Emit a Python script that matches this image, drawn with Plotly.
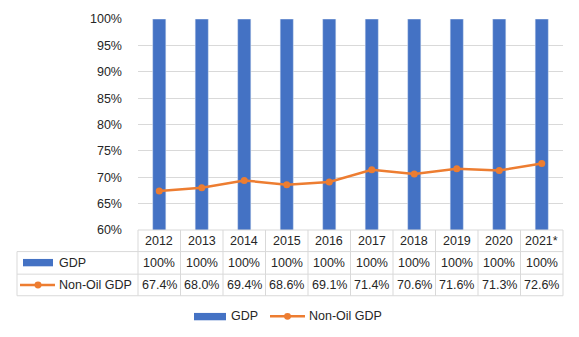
import plotly.graph_objects as go

years = ["2012", "2013", "2014", "2015", "2016", "2017", "2018", "2019", "2020", "2021*"]
gdp = [1.00, 1.00, 1.00, 1.00, 1.00, 1.00, 1.00, 1.00, 1.00, 1.00]
non_oil = [0.674, 0.680, 0.694, 0.686, 0.691, 0.714, 0.706, 0.716, 0.713, 0.726]
y_ticks = [0.60, 0.65, 0.70, 0.75, 0.80, 0.85, 0.90, 0.95, 1.00]

BLUE = "#4472C4"
ORANGE = "#ED7D31"
GRID = "#D9D9D9"
TXT = "#262626"
FONT = "Liberation Sans"

W, H = 579, 337
L, R, T, B = 138, 16, 15, 107
PW, PH = W - L - R, H - T - B


def px2py(py):
    return (H - B - py) / PH


def px2px(px):
    return (px - L) / PW


fig = go.Figure()
fig.add_trace(go.Bar(x=list(range(len(years))), y=gdp, marker_color=BLUE, width=0.31,
                     name="GDP", showlegend=False))
fig.add_trace(go.Scatter(x=list(range(len(years))), y=non_oil, mode="lines+markers",
                         line=dict(color=ORANGE, width=2.5), marker=dict(color=ORANGE, size=7),
                         name="Non-Oil GDP", showlegend=False))

shapes = []
ann = []
rows = [230, 252, 275, 297]
left_px = 17
shapes.append(dict(type="line", xref="paper", yref="paper", x0=0, x1=1,
                   y0=px2py(rows[0]), y1=px2py(rows[0]), line=dict(color=GRID, width=1)))
for r in rows[1:]:
    shapes.append(dict(type="line", xref="paper", yref="paper", x0=px2px(left_px), x1=1,
                       y0=px2py(r), y1=px2py(r), line=dict(color=GRID, width=1)))
n = len(years)
for i in range(n + 1):
    xp = i / n
    shapes.append(dict(type="line", xref="paper", yref="paper", x0=xp, x1=xp,
                       y0=px2py(rows[0]), y1=px2py(rows[3]), line=dict(color=GRID, width=1)))
shapes.append(dict(type="line", xref="paper", yref="paper", x0=px2px(left_px), x1=px2px(left_px),
                   y0=px2py(rows[1]), y1=px2py(rows[3]), line=dict(color=GRID, width=1)))

centers = [(rows[i] + rows[i + 1]) / 2 for i in range(3)]
tf = dict(size=12.5, color=TXT, family=FONT)


def txt(x, xref, py, text, xanchor="center"):
    return dict(x=x, xref=xref, y=px2py(py), yref="paper", text=text, showarrow=False,
                xanchor=xanchor, yanchor="middle", font=tf)


for i, yr in enumerate(years):
    ann.append(txt(i, "x", centers[0] + 0.5, yr))
    ann.append(txt(i, "x", centers[1], f"{gdp[i]*100:.0f}%"))
    ann.append(txt(i, "x", centers[2], f"{non_oil[i]*100:.1f}%"))

shapes.append(dict(type="rect", xref="paper", yref="paper", x0=px2px(23), x1=px2px(53),
                   y0=px2py(267), y1=px2py(259.5), fillcolor=BLUE, line=dict(width=0)))
ann.append(txt(px2px(57), "paper", centers[1], "GDP", "left"))
shapes.append(dict(type="line", xref="paper", yref="paper", x0=px2px(20), x1=px2px(55),
                   y0=px2py(286), y1=px2py(286), line=dict(color=ORANGE, width=2.5)))
shapes.append(dict(type="circle", xref="paper", yref="paper", x0=px2px(34.5), x1=px2px(41.5),
                   y0=px2py(289.5), y1=px2py(282.5), fillcolor=ORANGE, line=dict(width=0)))
ann.append(txt(px2px(57), "paper", centers[2], "Non-Oil GDP", "left"))

ly = 318
shapes.append(dict(type="rect", xref="paper", yref="paper", x0=px2px(194), x1=px2px(226),
                   y0=px2py(322), y1=px2py(314.5), fillcolor=BLUE, line=dict(width=0)))
ann.append(txt(px2px(229), "paper", ly, "GDP", "left"))
shapes.append(dict(type="line", xref="paper", yref="paper", x0=px2px(270), x1=px2px(305),
                   y0=px2py(ly), y1=px2py(ly), line=dict(color=ORANGE, width=2.5)))
shapes.append(dict(type="circle", xref="paper", yref="paper", x0=px2px(284), x1=px2px(291),
                   y0=px2py(ly + 3.5), y1=px2py(ly - 3.5), fillcolor=ORANGE, line=dict(width=0)))
ann.append(txt(px2px(307), "paper", ly, "Non-Oil GDP", "left"))

fig.update_layout(
    width=W, height=H,
    margin=dict(l=L, r=R, t=T, b=B),
    paper_bgcolor="white", plot_bgcolor="white",
    showlegend=False,
    shapes=shapes, annotations=ann,
    font=dict(family=FONT, size=12.5, color=TXT),
    xaxis=dict(range=[-0.5, n - 0.5], showticklabels=False, showgrid=False,
               zeroline=False, showline=False, fixedrange=True),
    yaxis=dict(range=[0.6, 1.0], tickvals=y_ticks, tickformat=".0%", showgrid=True,
               gridcolor=GRID, gridwidth=1, zeroline=False, showline=False, ticks="",
               ticklabelstandoff=15, tickfont=tf),
)

fig.write_html("out.html", config={"displayModeBar": False})
